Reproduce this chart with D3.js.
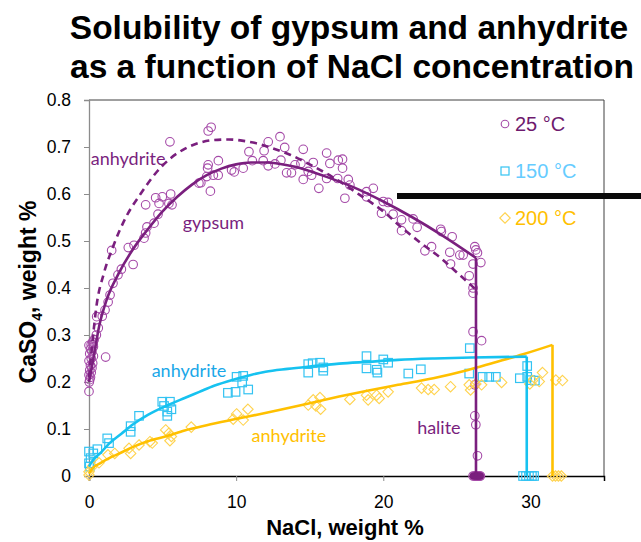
<!DOCTYPE html>
<html><head><meta charset="utf-8">
<script src="https://cdn.jsdelivr.net/npm/d3@7/dist/d3.min.js"></script>
<style>body{margin:0;background:#fff}svg{display:block}</style>
</head><body>
<script>
// ---- data ----
const xTicks = [0, 10, 20, 30];
const yTicks = [0, 0.1, 0.2, 0.3, 0.4, 0.5, 0.6, 0.7, 0.8];
const seriesNames = ["25 °C", "150 °C", "200 °C"];

const circles25 = [
 [0.02,0.20],[0.05,0.205],[0.1,0.21],[0.0,0.215],[0.15,0.22],[0.05,0.225],[0.2,0.23],[0.1,0.235],[0.25,0.24],[0.0,0.245],
 [0.15,0.25],[0.3,0.255],[0.05,0.26],[0.2,0.265],[0.1,0.27],[0.3,0.275],[0.0,0.278],[0.15,0.28],[0.25,0.285],[0.35,0.29],
 [0.0,0.18],[1.13,0.253],[0.29,0.279],
 [0.5,0.30],[0.63,0.315],[0.52,0.339],[0.9,0.34],[1.09,0.353],[1.3,0.37],[1.43,0.385],[1.63,0.41],[1.97,0.428],[2.2,0.44],
 [1.54,0.48],[3.0,0.45],[2.67,0.486],[3.06,0.491],[3.74,0.506],[3.85,0.517],[3.94,0.53],[4.42,0.538],[4.69,0.557],[3.85,0.577],
 [4.53,0.592],[4.76,0.58],[4.98,0.594],[5.43,0.58],[5.55,0.60],[5.64,0.577],[5.5,0.711],[7.47,0.623],[7.6,0.624],[8.0,0.637],
 [8.1,0.662],[8.06,0.655],[8.25,0.606],[8.1,0.734],[8.3,0.742],[8.45,0.64],[8.78,0.64],[8.79,0.671],[9.69,0.651],[9.87,0.647],
 [10.48,0.655],[10.87,0.69],[11.1,0.671],[11.84,0.671],[11.9,0.692],[12.18,0.711],[12.18,0.66],[12.64,0.664],[12.98,0.722],
 [13.3,0.699],[13.04,0.672],[13.43,0.645],[13.76,0.645],[14.0,0.662],[14.4,0.665],[14.56,0.695],[14.56,0.631],[14.9,0.648],
 [15.24,0.667],[15.13,0.64],[15.62,0.612],[16.15,0.687],[16.37,0.665],[16.15,0.633],[16.94,0.672],[16.9,0.633],[17.23,0.674],
 [17.23,0.655],[17.62,0.631],[17.73,0.619],[17.39,0.591],[18.86,0.605],[19.32,0.612],[18.86,0.594],[20.0,0.584],[20.33,0.582],
 [19.88,0.559],[20.67,0.557],[21.24,0.545],[22.03,0.547],[21.24,0.522],[22.3,0.529],[23.9,0.525],[23.95,0.52],[24.68,0.509],
 [23.28,0.488],[22.83,0.479],[24.52,0.476],[25.2,0.47],[25.43,0.47],[24.57,0.451],[26.22,0.488],[26.29,0.481],[26.4,0.475],
 [26.63,0.454],[26.1,0.451],[25.84,0.426],[26.1,0.40],[26.1,0.389],[26.1,0.307],[26.68,0.288],[26.22,0.194],[26.22,0.128],
 [26.29,0.109],[26.4,0.043],
 [26.1,0],[26.2,0],[26.3,0],[26.4,0],[26.5,0],[26.6,0],[26.25,0],[26.45,0],[26.35,0],[26.55,0]
];
const squares150 = [
 [0,0.052],[0.11,0.038],[0,0.027],[0.05,0.02],[0.57,0.057],[0.29,0.048],[1.24,0.08],[1.36,0.07],[2.83,0.106],[2.83,0.094],
 [3.4,0.128],[4.98,0.158],[5.1,0.149],[5.5,0.158],[5.32,0.137],[5.6,0.142],[5.32,0.128],[9.44,0.177],[9.96,0.179],[10.03,0.211],
 [10.48,0.213],[10.41,0.199],[10.82,0.184],[14.9,0.238],[14.9,0.22],[15.2,0.24],[15.7,0.241],[15.92,0.231],[15.92,0.224],
 [18.86,0.255],[18.86,0.229],[19.55,0.226],[19.6,0.22],[20.0,0.248],[20.33,0.241],[21.7,0.218],[22.55,0.227],[25.88,0.272],
 [25.84,0.218],[26.75,0.211],[27.2,0.211],[27.65,0.211],[29.28,0.208],[29.78,0.234],[29.78,0.211],[30.0,0.204],[30.3,0.203],
 [29.5,0],[29.7,0],[29.9,0],[30.1,0],[30.25,0]
];
const diamonds200 = [
 [0,0.009],[0,0.002],[0.23,0.02],[0.68,0.028],[1.29,0.045],[1.75,0.048],[2.72,0.059],[2.83,0.048],[3.4,0.066],[4.14,0.073],
 [4.3,0.07],[5.21,0.098],[5.43,0.091],[5.5,0.075],[5.6,0.084],[6.95,0.104],[9.8,0.121],[10.03,0.132],[10.48,0.119],[10.8,0.142],
 [14.9,0.151],[15.24,0.162],[15.42,0.149],[15.7,0.167],[15.74,0.142],[17.73,0.163],[18.86,0.172],[18.97,0.162],[19.55,0.172],
 [19.72,0.165],[20.33,0.179],[22.6,0.187],[23.05,0.184],[23.46,0.184],[24.57,0.19],[25.84,0.194],[25.93,0.183],[26.29,0.196],
 [26.68,0.194],[28.04,0.199],[29.96,0.196],[30.14,0.203],[30.6,0.201],[30.82,0.22],[31.73,0.204],[32.18,0.203],
 [31.5,0],[31.7,0],[31.9,0],[32.1,0]
];

// fitted curves (curve part, then vertical drop to 0 at the last x)
const gypsumCurve = [[0,0.20],[0.3,0.25],[0.7,0.32],[1.2,0.375],[2,0.43],[3,0.483],[4,0.525],[5,0.563],[6,0.594],[7,0.62],
 [8,0.64],[9,0.654],[10,0.663],[11,0.667],[12,0.667],[13,0.664],[14,0.658],[16,0.638],[18,0.614],[20,0.584],[22,0.55],
 [24,0.512],[26.3,0.464]];
const anhydrite25Curve = [[0,0.21],[0.25,0.29],[0.5,0.36],[1,0.43],[1.6,0.485],[2.5,0.55],[3.5,0.6],[4.5,0.643],[5.5,0.675],
 [6.5,0.696],[7.5,0.709],[8.5,0.715],[9.5,0.716],[10.5,0.713],[11.5,0.707],[12.5,0.697],[13.7,0.683],[15,0.663],[16.5,0.637],
 [18.4,0.598],[20,0.563],[21.2,0.53],[22.5,0.497],[23.9,0.464],[25,0.433],[26,0.405],[26.3,0.396]];
const anhydrite150Curve = [[0,0.02],[0.3,0.035],[0.75,0.048],[1.4,0.07],[2.2,0.09],[3,0.11],[4,0.13],[5.3,0.15],[6.5,0.166],
 [7.5,0.179],[8.5,0.192],[9.8,0.205],[11,0.215],[12,0.222],[13.5,0.228],[15,0.233],[17,0.239],[19,0.243],[21,0.247],
 [23.5,0.25],[26,0.252],[29.75,0.254]];
const anhydrite200Curve = [[0,0.005],[0.2,0.015],[0.75,0.027],[1.5,0.04],[2.2,0.05],[3,0.062],[4,0.074],[5.3,0.085],[6.5,0.097],
 [8,0.108],[9.8,0.12],[11.5,0.131],[13,0.141],[15,0.155],[17,0.169],[19,0.182],[21,0.194],[23.4,0.208],[25.7,0.225],
 [27.5,0.241],[29.5,0.259],[31.5,0.279]];

const labels = [
 {text:"anhydrite", x:0.12, y:0.661, c:"#7a1f7e"},
 {text:"gypsum", x:6.37, y:0.526, c:"#7a1f7e"},
 {text:"anhydrite", x:4.26, y:0.21, c:"#1aa7e8"},
 {text:"anhydrite", x:11.05, y:0.073, c:"#ffc000"},
 {text:"halite", x:22.3, y:0.089, c:"#7a1f7e"}
];

// ---- drawing ----
const W = 641, H = 542;
const svg = d3.select("body").append("svg").attr("width", W).attr("height", H);
const m = {left: 89, top: 100, right: 604, bottom: 476};
const x = d3.scaleLinear().domain([0, 35]).range([m.left, m.right]);
const y = d3.scaleLinear().domain([0, 0.8]).range([m.bottom, m.top]);

const PURPLE = "#7a1f7e", CIRC = "#a54aa8", CYAN = "#16c2f0", SQ = "#33c3f2", GOLD = "#ffc000", DIA = "#ffd34f";
const SANS = "'Liberation Sans', Arial, sans-serif";

// title
const title = svg.append("text").attr("text-anchor", "middle")
  .attr("font-family", SANS).attr("font-weight", "bold").attr("font-size", 33.5).attr("fill", "#000");
title.append("tspan").attr("x", 349).attr("y", 39).text("Solubility of gypsum and anhydrite");
title.append("tspan").attr("x", 352).attr("y", 78).text("as a function of NaCl concentration");

// frame
svg.append("line").attr("x1", m.left).attr("x2", m.right).attr("y1", m.top).attr("y2", m.top).attr("stroke", "#404040").attr("stroke-width", 1);
svg.append("line").attr("x1", m.right).attr("x2", m.right).attr("y1", m.top).attr("y2", m.bottom).attr("stroke", "#404040").attr("stroke-width", 1);

// y axis
const yAxis = svg.append("g").attr("transform", `translate(${m.left},0)`)
  .call(d3.axisLeft(y).tickValues(yTicks).tickFormat(d => d === 0 ? "0" : d3.format(".1f")(d)).tickSize(5).tickPadding(13));
yAxis.select(".domain").attr("stroke", "#8c8c8c").attr("stroke-width", 1.3);
yAxis.selectAll(".tick line").attr("stroke", "#8c8c8c");
yAxis.selectAll(".tick text").attr("font-family", SANS).attr("font-size", 17.5).attr("fill", "#000");

// x axis
const xAxis = svg.append("g").attr("transform", `translate(0,${m.bottom})`)
  .call(d3.axisBottom(x).tickValues(xTicks).tickSize(5).tickPadding(15));
xAxis.select(".domain").attr("stroke", "#000").attr("stroke-width", 1.5);
xAxis.selectAll(".tick line").attr("stroke", "#8c8c8c");
xAxis.selectAll(".tick text").attr("font-family", SANS).attr("font-size", 17.5).attr("fill", "#000");

// axis titles
svg.append("text").attr("x", 345).attr("y", 535).attr("text-anchor", "middle")
  .attr("font-family", SANS).attr("font-weight", "bold").attr("font-size", 22).text("NaCl, weight %");
const yt = svg.append("text").attr("transform", "translate(36,292) rotate(-90)").attr("text-anchor", "middle")
  .attr("font-family", SANS).attr("font-weight", "bold").attr("font-size", 23);
yt.append("tspan").text("CaSO");
yt.append("tspan").attr("font-size", 14).attr("dy", 6).text("4");
yt.append("tspan").attr("dy", -6).text(", weight %");

// markers
const gM = svg.append("g");
gM.selectAll("circle.c25").data(circles25).join("circle").attr("class", "c25")
  .attr("cx", d => x(d[0])).attr("cy", d => y(d[1])).attr("r", 4.3)
  .attr("fill", "none").attr("stroke", CIRC).attr("stroke-width", 1.1);
const sq = 8.5;
gM.selectAll("rect.s150").data(squares150).join("rect").attr("class", "s150")
  .attr("x", d => x(d[0]) - sq/2).attr("y", d => y(d[1]) - sq/2).attr("width", sq).attr("height", sq)
  .attr("fill", "none").attr("stroke", SQ).attr("stroke-width", 1.2);
const dsym = d3.symbol().type(d3.symbolDiamond2).size(70);
gM.selectAll("path.d200").data(diamonds200).join("path").attr("class", "d200")
  .attr("transform", d => `translate(${x(d[0])},${y(d[1])})`).attr("d", dsym)
  .attr("fill", "none").attr("stroke", DIA).attr("stroke-width", 1.1);
// filled blob at halite point
gM.selectAll("circle.blob").data(circles25.filter(d => d[1] === 0)).join("circle").attr("class", "blob")
  .attr("cx", d => x(d[0])).attr("cy", d => y(d[1])).attr("r", 3.5).attr("fill", PURPLE);

// curves
const lineGen = d3.line().x(d => x(d[0])).y(d => y(d[1])).curve(d3.curveMonotoneX);
function drawCurve(data, color, dash) {
  svg.append("path").datum(data).attr("d", lineGen).attr("fill", "none").attr("stroke", color)
    .attr("stroke-width", 2.6).attr("stroke-dasharray", dash || null);
}
function drawDrop(data, color) {
  const last = data[data.length - 1];
  svg.append("path").datum([last, [last[0], 0]]).attr("d", d3.line().x(d => x(d[0])).y(d => y(d[1])))
    .attr("fill", "none").attr("stroke", color).attr("stroke-width", 2.6);
}
drawCurve(anhydrite25Curve, PURPLE, "7,5");
drawCurve(anhydrite200Curve, GOLD); drawDrop(anhydrite200Curve, GOLD);
drawCurve(anhydrite150Curve, CYAN); drawDrop(anhydrite150Curve, CYAN);
drawCurve(gypsumCurve, PURPLE); drawDrop(gypsumCurve, PURPLE);

// curve labels
svg.selectAll("text.lbl").data(labels).join("text").attr("class", "lbl")
  .attr("x", d => x(d.x)).attr("y", d => y(d.y)).attr("fill", d => d.c)
  .attr("font-family", "Lato, 'Open Sans', sans-serif").attr("font-size", 18).text(d => d.text);

// legend
const legColors = ["#6e1a6e", "#66ccff", "#ffc000"];
const legMarkColors = [CIRC, SQ, DIA];
const lg = svg.append("g");
seriesNames.forEach((n, i) => {
  const cy = 124 + i * 47;
  if (i === 0) lg.append("circle").attr("cx", 505).attr("cy", cy).attr("r", 3.8).attr("fill", "none").attr("stroke", legMarkColors[i]).attr("stroke-width", 1.1);
  if (i === 1) lg.append("rect").attr("x", 501).attr("y", cy - 4).attr("width", 8).attr("height", 8).attr("fill", "none").attr("stroke", legMarkColors[i]).attr("stroke-width", 1.2);
  if (i === 2) lg.append("path").attr("transform", `translate(505,${cy})`).attr("d", dsym).attr("fill", "none").attr("stroke", legMarkColors[i]).attr("stroke-width", 1.1);
  lg.append("text").attr("x", 515).attr("y", cy + 7).attr("fill", legColors[i])
    .attr("font-family", SANS).attr("font-size", 20).text(n);
});

// thick black bar (from the source slide)
svg.append("line").attr("x1", 397).attr("x2", 641).attr("y1", 196).attr("y2", 196).attr("stroke", "#0a0a0a").attr("stroke-width", 6);
</script>
</body></html>
